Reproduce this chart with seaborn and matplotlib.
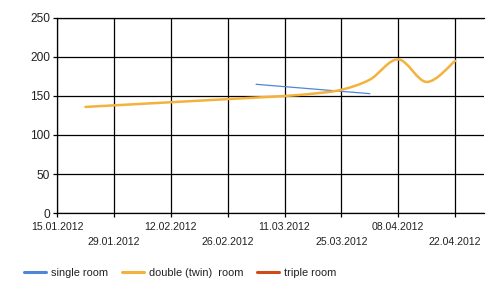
import numpy as np
import pandas as pd
import matplotlib
matplotlib.use("Agg")
import matplotlib.pyplot as plt
import matplotlib.dates as mdates
import seaborn as sns
from matplotlib.path import Path
from matplotlib.patches import PathPatch
from matplotlib.lines import Line2D

# ---- data ----
series_names = ["single room", "double (twin)  room", "triple room"]
series_colors = ["#4f86d9", "#f4b13c", "#d0491b"]

single_dates = ["2012-03-04", "2012-04-01"]
single_values = [165, 153]

double_dates = ["2012-01-22", "2012-01-29", "2012-02-05", "2012-02-12", "2012-02-19",
                "2012-02-26", "2012-03-04", "2012-03-11", "2012-03-18", "2012-03-25",
                "2012-04-01", "2012-04-08", "2012-04-15", "2012-04-22"]
double_values = [136, 138, 140, 142, 144, 146, 148, 150, 153, 158, 171, 197, 168, 195]

tick_dates = ["2012-01-15", "2012-01-29", "2012-02-12", "2012-02-26",
              "2012-03-11", "2012-03-25", "2012-04-08", "2012-04-22"]
tick_labels = ["15.01.2012", "29.01.2012", "12.02.2012", "26.02.2012",
               "11.03.2012", "25.03.2012", "08.04.2012", "22.04.2012"]
y_ticks = [0, 50, 100, 150, 200, 250]

# ---- figure ----
sns.set_theme(style="white")
plt.rcParams['font.family'] = ['Liberation Sans', 'DejaVu Sans']
plt.rcParams['text.color'] = '#222222'

fig = plt.figure(figsize=(5, 2.96), dpi=100)
ax = fig.add_axes([0.114, 0.2804, 0.854, 0.6588])

single_df = pd.DataFrame({"date": pd.to_datetime(single_dates), "value": single_values})
sns.lineplot(data=single_df, x="date", y="value", ax=ax, color=series_colors[0], lw=0.9)


def smooth_path(xs, ys):
    P = np.column_stack([xs, ys]).astype(float)
    verts = [P[0]]
    codes = [Path.MOVETO]
    n = len(P)
    for i in range(n - 1):
        p0 = P[i - 1] if i > 0 else P[i]
        p1 = P[i]
        p2 = P[i + 1]
        p3 = P[i + 2] if i + 2 < n else P[i + 1]
        c1 = p1 + (p2 - p0) / 6.0
        c2 = p2 - (p3 - p1) / 6.0
        verts += [c1, c2, p2]
        codes += [Path.CURVE4] * 3
    return Path(verts, codes)


dx = mdates.date2num(pd.to_datetime(double_dates))
ax.add_patch(PathPatch(smooth_path(dx, double_values), fill=False,
                       edgecolor=series_colors[1], lw=1.8, capstyle='round',
                       joinstyle='round', zorder=3))

x0 = mdates.date2num(pd.Timestamp("2012-01-15"))
ax.set_xlim(x0, x0 + 105.1)
ax.set_ylim(0, 250)

tick_nums = mdates.date2num(pd.to_datetime(tick_dates))
ax.set_xticks(tick_nums)
ax.set_xticklabels([lab if i % 2 == 0 else "\n" + lab for i, lab in enumerate(tick_labels)])
for t in ax.get_xticklabels():
    t.set_linespacing(1.6)
ax.set_yticks(y_ticks)
ax.set_yticklabels([str(v) for v in y_ticks])

ax.set_xlabel("")
ax.set_ylabel("")
ax.grid(True, color='black', lw=0.9)
ax.set_axisbelow(True)
for s in ["left", "bottom", "top"]:
    ax.spines[s].set_visible(True)
    ax.spines[s].set_color("black")
    ax.spines[s].set_linewidth(0.9)
ax.spines["right"].set_visible(False)

ax.tick_params(axis='x', direction='out', length=3, width=0.9, color='black',
               labelsize=7.6, pad=3.5, labelcolor='#222222', bottom=True)
ax.tick_params(axis='y', direction='out', length=3, width=0.9, color='black',
               labelsize=8.6, pad=2, labelcolor='#222222', left=True)

handles = [Line2D([0], [0], color=c, lw=2.2) for c in series_colors]
fig.legend(handles, series_names, loc='center left', bbox_to_anchor=(0.048, 0.078),
           ncol=3, frameon=False, fontsize=7.9, handlelength=2.0, handletextpad=0.45,
           columnspacing=1.25, borderpad=0, borderaxespad=0)

fig.savefig("out.png", dpi=100)
